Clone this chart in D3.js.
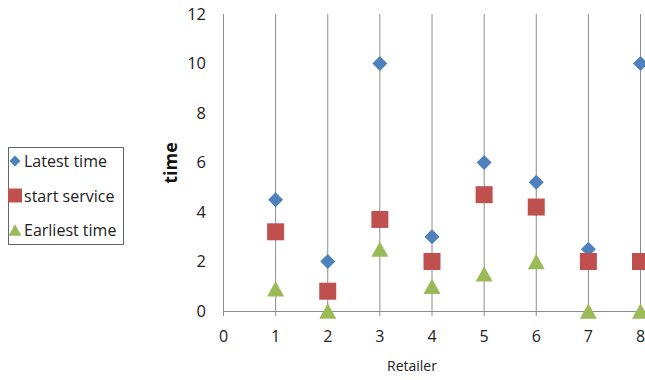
<!DOCTYPE html>
<html><head><meta charset="utf-8">
<script src="https://cdn.jsdelivr.net/npm/d3@7"></script>
<style>body{margin:0;background:#fff}svg{display:block}text{font-family:"Open Sans","Liberation Sans",sans-serif}</style>
</head><body>
<svg id="c" width="645" height="380"></svg>
<script>
const retailers = [1,2,3,4,5,6,7,8];
const latestTime = [4.5,2,10,3,6,5.2,2.5,10];
const startService = [3.2,0.8,3.7,2,4.7,4.2,2,2];
const earliestTime = [0.9,0,2.5,1,1.5,2,0,0];
const xTicks = [0,1,2,3,4,5,6,7,8];
const yTicks = [0,2,4,6,8,10,12];
const seriesNames = ["Latest time","start service","Earliest time"];
const colors = ["#4F81BD","#C0504D","#9BBB59"];

const svg = d3.select("#c");
const x = d3.scaleLinear().domain([0,8]).range([223,640]);
const y = d3.scaleLinear().domain([0,12]).range([311,14]);

svg.append("g").selectAll("line").data(xTicks).join("line")
  .attr("x1",d=>x(d)+0.5).attr("x2",d=>x(d)+0.5).attr("y1",y(12)).attr("y2",y(0)+5)
  .attr("stroke","#8c8c8c").attr("stroke-width",1);
svg.append("line").attr("x1",x(0)).attr("x2",645).attr("y1",y(0)+0.5).attr("y2",y(0)+0.5)
  .attr("stroke","#8c8c8c").attr("stroke-width",1);

svg.append("g").selectAll("text").data(xTicks).join("text")
  .attr("x",d=>x(d)+0.5).attr("y",y(0)+31).attr("text-anchor","middle")
  .attr("font-size",16).attr("fill","#222").text(d=>d);
svg.append("g").selectAll("text").data(yTicks).join("text")
  .attr("x",206).attr("y",d=>y(d)+5.5).attr("text-anchor","end")
  .attr("font-size",16.5).attr("fill","#222").text(d=>d);

svg.append("text").attr("transform","translate(177,163) rotate(-90)")
  .attr("text-anchor","middle").attr("font-size",18).attr("font-weight","bold").attr("fill","#111").text("time");
svg.append("text").attr("x",412).attr("y",371).attr("text-anchor","middle")
  .attr("font-size",14).attr("fill","#222").text("Retailer");

function diamond(s){return `M0,${-s}L${s},0L0,${s}L${-s},0Z`;}
function square(s){return `M${-s},${-s}H${s}V${s}H${-s}Z`;}
function triangle(s){const h=s*0.9;return `M0,${-h}L${s},${h}L${-s},${h}Z`;}
const shapes = [diamond, square, triangle];
const sz = [7.5, 8.5, 8.5];
const data = [latestTime, startService, earliestTime];

data.forEach((vals,i)=>{
  svg.append("g").selectAll("path").data(vals).join("path")
    .attr("d", shapes[i](sz[i]))
    .attr("transform",(d,j)=>`translate(${x(retailers[j])+0.5},${y(d)})`)
    .attr("fill",colors[i]);
});

const lg = svg.append("g");
lg.append("rect").attr("x",8.5).attr("y",147.5).attr("width",115).attr("height",97)
  .attr("fill","#fff").attr("stroke","#666").attr("stroke-width",1);
seriesNames.forEach((n,i)=>{
  const cy = 161 + i*34.5;
  lg.append("path").attr("d", shapes[i]([5.5,7,6.5][i]))
    .attr("transform",`translate(15,${cy})`).attr("fill",colors[i]);
  lg.append("text").attr("x",24).attr("y",cy+6).attr("font-size",16).attr("fill","#222").text(n);
});
</script>
</body></html>
